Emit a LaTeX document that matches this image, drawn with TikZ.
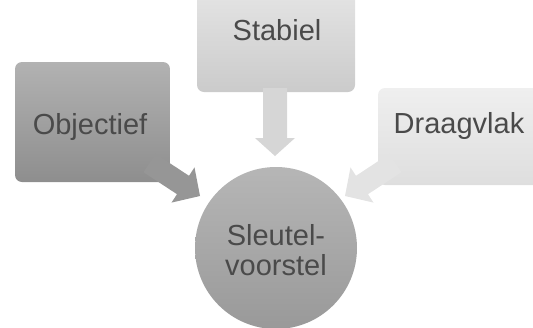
\documentclass[tikz,border=0pt]{standalone}
\usepackage{fontspec}
\setmainfont{Liberation Sans}
\definecolor{txt}{HTML}{4A4A4A}
\definecolor{objtop}{HTML}{B2B2B2}
\definecolor{objbot}{HTML}{8E8E8E}
\definecolor{objarr}{HTML}{969696}
\definecolor{stbtop}{HTML}{E4E4E4}
\definecolor{stbbot}{HTML}{CBCBCB}
\definecolor{stbarr}{HTML}{D6D6D6}
\definecolor{drgtop}{HTML}{EFEFEF}
\definecolor{drgbot}{HTML}{DEDEDE}
\definecolor{drgarr}{HTML}{E3E3E3}
\definecolor{cirtop}{HTML}{B6B6B6}
\definecolor{cirbot}{HTML}{999999}
\tikzset{
  lbl/.style={font=\fontsize{29}{30}\selectfont, text=txt, inner sep=0pt, anchor=base},
  boxshape/.style={rounded corners=7pt},
}
\begin{document}
\begin{tikzpicture}[x=1pt,y=-1pt]
\useasboundingbox (0,0) rectangle (533,327);
% Objectief box and callout arrow
\shade[boxshape, top color=objtop, bottom color=objbot] (15,62) rectangle (170,182);
\fill[objarr] (155.6,153.8) -- (189,175.8) -- (194.5,167.4) -- (200,196)
  -- (171.5,202.6) -- (177,194.2) -- (143.5,172.2) -- cycle;
% Stabiel box and arrow
\shade[boxshape, top color=stbtop, bottom color=stbbot] (197,-10) rectangle (355,92);
\fill[stbarr] (263,88) -- (263,138) -- (255,138) -- (275,156) -- (295,138)
  -- (287,138) -- (287,88) -- cycle;
% Draagvlak box and callout arrow
\shade[boxshape, top color=drgtop, bottom color=drgbot] (378,88) rectangle (545,185);
\fill[drgarr] (389.4,153.8) -- (356,175.8) -- (350.5,167.4) -- (345,196)
  -- (373.5,202.6) -- (368,194.2) -- (401.5,172.2) -- cycle;
% central circle
\shade[top color=cirtop, bottom color=cirbot] (276,248) circle [radius=81pt];
% labels
\node[lbl] (obj) at (90,134) {Objectief};
\node[lbl] (stb) at (277,40) {Stabiel};
\node[lbl] (drg) at (459,133) {Draagvlak};
\node[lbl] (sl1) at (276,245) {Sleutel-};
\node[lbl] (sl2) at (276,275) {voorstel};
\end{tikzpicture}
\end{document}
